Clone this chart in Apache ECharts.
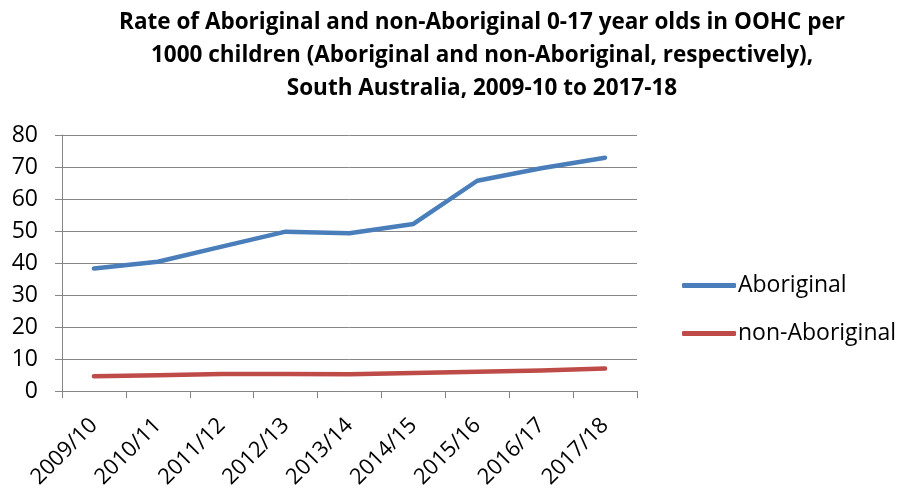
<!DOCTYPE html>
<html>
<head>
<meta charset="utf-8">
<script src="https://cdn.jsdelivr.net/npm/echarts@6/dist/echarts.min.js"></script>
<style>
  html, body { margin: 0; padding: 0; background: #fff; }
  #chart { width: 900px; height: 498px; }
</style>
</head>
<body>
<div id="chart"></div>
<script>
// Financial years on the category axis
const years = ['2009/10', '2010/11', '2011/12', '2012/13', '2013/14', '2014/15', '2015/16', '2016/17', '2017/18'];
// Rate per 1000 children in out-of-home care
const aboriginal = [38.3, 40.4, 45.1, 49.8, 49.3, 52.2, 65.7, 69.6, 72.9];
const nonAboriginal = [4.6, 4.9, 5.3, 5.3, 5.2, 5.6, 6.0, 6.4, 7.0];
const seriesNames = ['Aboriginal', 'non-Aboriginal'];
const titleText = 'Rate of Aboriginal and non-Aboriginal 0-17 year olds in OOHC per\n1000 children (Aboriginal and non-Aboriginal, respectively),\nSouth Australia, 2009-10 to 2017-18';

const font = 'Open Sans';
const grey = '#868686';

const chart = echarts.init(document.getElementById('chart'), null, { renderer: 'canvas' });
chart.setOption({
  animation: false,
  backgroundColor: '#fff',
  title: {
    text: titleText,
    left: 477,
    top: 1,
    textAlign: 'center',
    textStyle: {
      fontFamily: font,
      fontWeight: 'bold',
      fontSize: 22.5,
      lineHeight: 33,
      color: '#000'
    }
  },
  legend: {
    orient: 'vertical',
    left: 677,
    top: 265,
    itemWidth: 54,
    itemHeight: 5,
    itemGap: 17,
    icon: 'roundRect',
    data: seriesNames,
    textStyle: { fontFamily: font, fontSize: 23, lineHeight: 31, color: '#000', padding: [0, 0, 0, -3] }
  },
  grid: { left: 62, right: 263, top: 135, bottom: 107, containLabel: false },
  xAxis: {
    type: 'category',
    data: years,
    boundaryGap: true,
    axisLine: { lineStyle: { color: grey, width: 1 } },
    axisTick: { show: true, length: 7, lineStyle: { color: grey } },
    axisLabel: {
      rotate: 45,
      fontFamily: font,
      fontSize: 22,
      color: '#000',
      margin: 31
    }
  },
  yAxis: {
    type: 'value',
    min: 0,
    max: 80,
    interval: 10,
    axisLine: { show: true, lineStyle: { color: grey, width: 1 } },
    axisTick: { show: true, length: 7, inside: false, lineStyle: { color: grey } },
    splitLine: { show: true, lineStyle: { color: grey, width: 1 } },
    axisLabel: { fontFamily: font, fontSize: 23, color: '#000', margin: 24 }
  },
  series: [
    {
      name: seriesNames[0],
      type: 'line',
      data: aboriginal,
      symbol: 'none',
      color: '#4a7ebb',
      lineStyle: { width: 4.5, cap: 'round', join: 'round' }
    },
    {
      name: seriesNames[1],
      type: 'line',
      data: nonAboriginal,
      symbol: 'none',
      color: '#be4b48',
      lineStyle: { width: 4.5, cap: 'round', join: 'round' }
    }
  ]
});
</script>
</body>
</html>
